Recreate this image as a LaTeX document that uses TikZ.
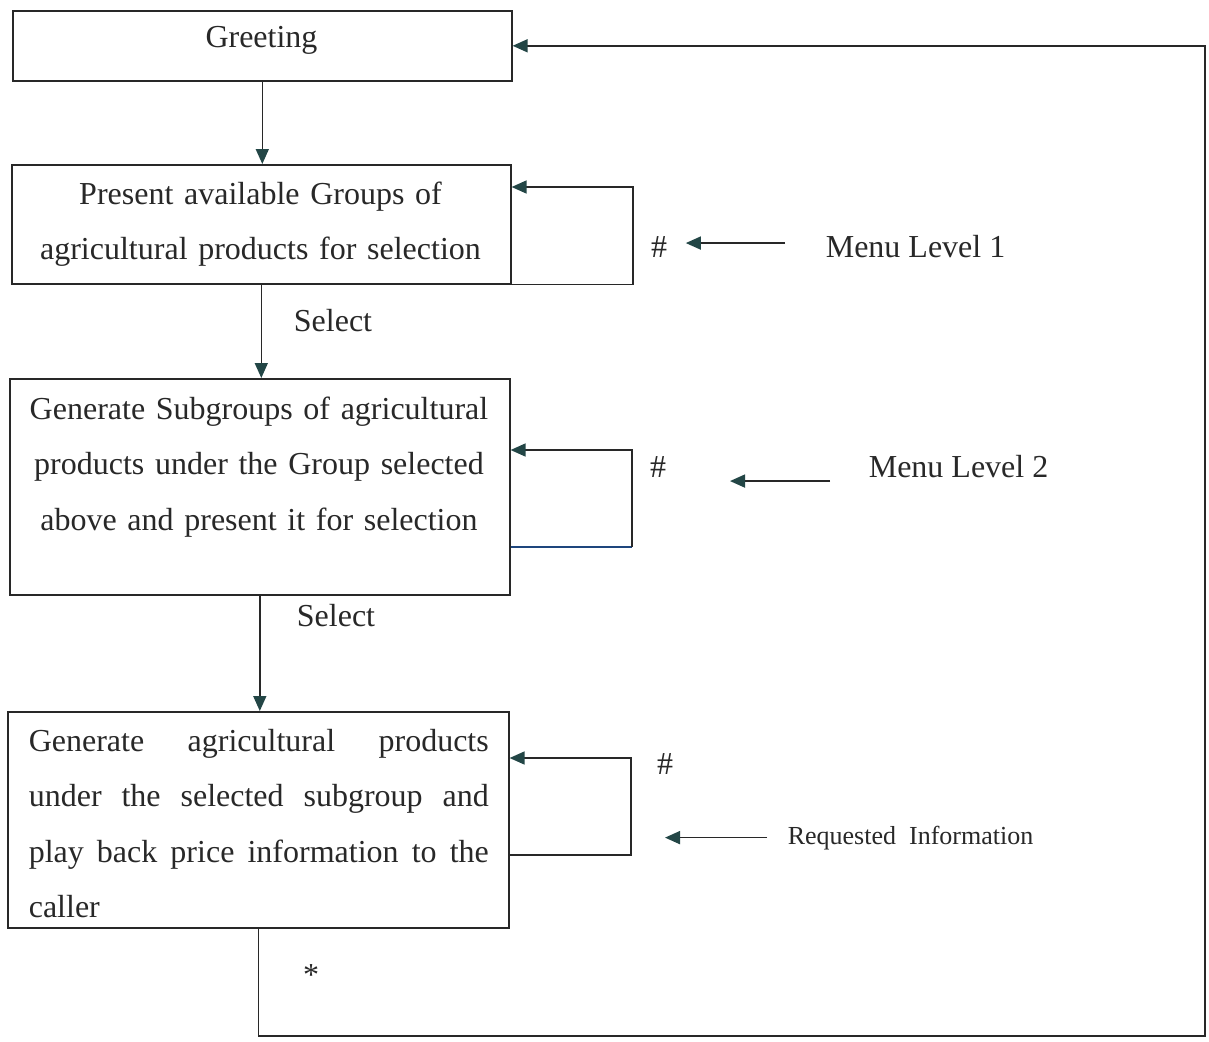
\documentclass[tikz,border=0pt]{standalone}
\usepackage{fontspec}
\setmainfont{Liberation Serif}
\usetikzlibrary{arrows.meta}
\definecolor{ink}{RGB}{40,40,40}
\definecolor{spitze}{RGB}{35,70,70}
\definecolor{blaulinie}{RGB}{30,70,125}
\begin{document}
\begin{tikzpicture}[x=1pt,y=-1pt,line width=1.6pt,ink,
  >={Triangle[length=15pt,width=13pt,color=spitze]},
  font=\fontsize{32}{55.5}\selectfont,
  kasten/.style={draw,inner sep=0pt,anchor=north west},
  txt/.style={inner sep=0pt,text=ink}]
\useasboundingbox[fill=white] (0,0) rectangle (1209,1041);
% Kaesten
\node[kasten,minimum width=499pt,minimum height=70pt] (greet) at (12,10) {};
\node[kasten,minimum width=499pt,minimum height=119pt] (grp) at (11,164) {};
\node[kasten,minimum width=500pt,minimum height=216pt] (sub) at (9,378) {};
\node[kasten,minimum width=501pt,minimum height=216pt] (prod) at (7,711) {};
% Texte in den Kaesten
\node[txt,anchor=base] (greettxt) at (261.5,48) {Greeting};
\node[txt,anchor=north,text width=480pt,align=center] (grptxt) at (260.5,181)
  {Present available Groups of\\agricultural products for selection};
\node[txt,anchor=north,text width=480pt,align=center] (subtxt) at (259,396)
  {Generate Subgroups of agricultural\\products under the Group selected\\above and present it for selection};
\node[txt,anchor=north west,text width=460pt,align=justify] (prodtxt) at (28,728)
  {Generate agricultural products\linebreak under the selected subgroup and\linebreak play back price information to the\linebreak caller};
% Beschriftungen
\node[txt,anchor=base] (sel1) at (333,331) {Select};
\node[txt,anchor=base] (sel2) at (336,626) {Select};
\node[txt,anchor=base] (h1) at (659,257) {\#};
\node[txt,anchor=base] (h2) at (658,477) {\#};
\node[txt,anchor=base] (h3) at (665,774) {\#};
\node[txt,anchor=base] (stern) at (311,985) {*};
\node[txt,anchor=base west] (ml1) at (825,257) {Menu Level 1};
\node[txt,anchor=base west] (ml2) at (868,477) {Menu Level 2};
\node[txt,anchor=base west,font=\fontsize{26}{30}\selectfont] (ri) at (787,844) {Requested\ \ Information};
% Ablauf
\draw[->] (greet.south) -- (greet.south |- grp.north);
\draw[->] (grp.south) -- (grp.south |- sub.north);
\draw[->] (sub.south) -- (sub.south |- prod.north);
% Schleifen
\coordinate (s1) at (633,187);
\draw[->] (grp.south east) -| (s1) -- (s1 -| grp.east);
\coordinate (s2) at (632,450); \coordinate (u2) at (632,547);
\draw[blaulinie] (u2 -| sub.east) -- (u2);
\draw[->] (u2) -- (s2) -- (s2 -| sub.east);
\coordinate (s3) at (631,758); \coordinate (u3) at (631,855);
\draw[->] (u3 -| prod.east) -| (s3) -- (s3 -| prod.east);
% Menuepfeile
\draw[->,shorten <=40pt,shorten >=18pt] ([yshift=3pt]ml1.west) -- ([yshift=3pt]ml1.west -| h1.east);
\draw[->] ([shift={(-38,15)}]ml2.west) -- ++(-100,0);
\draw[->] ([xshift=-20pt]ri.west) -- ++(-102,0);
% zurueck zur Begruessung
\coordinate (ecke) at (1205,1036);
\draw[->] (prod.south) |- (ecke) |- (greet.east);
\end{tikzpicture}
\end{document}
